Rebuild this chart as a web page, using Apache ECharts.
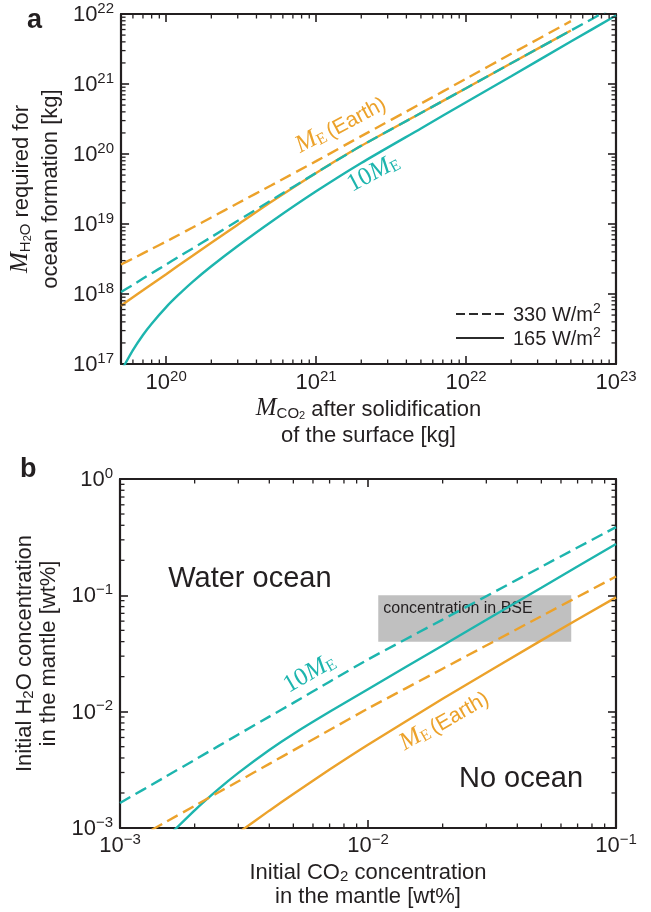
<!DOCTYPE html>
<html>
<head>
<meta charset="utf-8">
<script src="https://cdn.jsdelivr.net/npm/echarts@6/dist/echarts.min.js"></script>
<style>
  html, body { margin: 0; padding: 0; background: #fff; }
  #chart { width: 651px; height: 912px; }
</style>
</head>
<body>
<div id="chart"></div>
<script>
// panel a: CO2 left after surface solidification [kg] -> H2O needed for an ocean [kg]
const co2Mass = [5e19, 6e19, 7e19, 8e19, 1e20, 1.2e20, 1.5e20, 2e20, 3e20, 5e20, 1e21, 2e21, 5e21, 1e22, 2e22, 5e22, 1e23]
const h2oEarth330 = [2.64e18, 3.21e18, 3.81e18, 4.4e18, 5.62e18, 6.9e18, 8.9e18, 1.24e19, 1.98e19, 3.55e19, 7.9e19, 1.8e20, 5.25e20, 1.19e21, 2.7e21, 7.9e21, null]
const h2oEarth165 = [6.8e17, 8.97e17, 1.13e18, 1.38e18, 1.92e18, 2.53e18, 3.51e18, 5.38e18, 9.77e18, 2.06e19, 5.37e19, 1.31e20, 3.85e20, 8.7e20, 1.98e21, 5.8e21, null]
const h2oTen330 = [1.07e18, 1.35e18, 1.66e18, 1.98e18, 2.64e18, 3.36e18, 4.48e18, 6.5e18, 1.11e19, 2.17e19, 5.37e19, 1.31e20, 3.85e20, 8.7e20, 1.98e21, 5.8e21, 1.31e22]
const h2oTen165 = [7.9e16, 1.58e17, 2.6e17, 3.77e17, 6.5e17, 9.6e17, 1.49e18, 2.49e18, 4.85e18, 1.07e19, 2.93e19, 7.45e19, 2.32e20, 5.5e20, 1.29e21, 4.04e21, 9.5e21]

// panel b: initial mantle CO2 [wt%] -> initial mantle H2O [wt%] boundary
const co2Conc = [1e-3, 1.5e-3, 2e-3, 2.5e-3, 3e-3, 4e-3, 5e-3, 7e-3, 1e-2, 2e-2, 5e-2, 1e-1]
const h2oConcTen330 = [1.64e-3, 2.7e-3, 3.85e-3, 5.08e-3, 6.37e-3, 9.06e-3, 0.0119, 0.0181, 0.0281, 0.0619, 0.176, 0.386]
const h2oConcTen165 = [null, 7.8e-4, 1.42e-3, 2.17e-3, 2.98e-3, 4.69e-3, 6.44e-3, 9.98e-3, 0.0156, 0.0371, 0.1164, 0.2767]
const h2oConcEarth330 = [6.8e-4, 1.1e-3, 1.55e-3, 2.03e-3, 2.52e-3, 3.56e-3, 4.65e-3, 6.95e-3, 0.01064, 0.0234, 0.0662, 0.145]
const h2oConcEarth165 = [null, null, null, null, 9.1e-4, 1.41e-3, 1.96e-3, 3.18e-3, 5.2e-3, 0.0129, 0.041, 0.096]

// bulk silicate earth range [co2 lo, h2o lo, co2 hi, h2o hi]
const bseBox = [0.011, 0.04, 0.066, 0.1]

const legendNames = ['330 W/m2', '165 W/m2']

const orange = '#eca22b'
const teal = '#1db5ae'
const ink = '#231f20'
const sans = '"Liberation Sans", Arial, Helvetica, sans-serif'
const serif = '"Liberation Serif", "Times New Roman", serif'

function pairs(xs, ys) {
  const out = []
  xs.forEach((x, i) => { if (ys[i] != null) out.push([x, ys[i]]) })
  return out
}

function powLabel(v) {
  const e = Math.round(Math.log10(v))
  if (Math.abs(v / Math.pow(10, e) - 1) > 1e-6) return ''
  return '{b|10}{sup|' + (e < 0 ? '\u2212' + (-e) : e) + '}'
}

const tickRich = {
  b: { fontFamily: sans, fontSize: 22, color: ink, lineHeight: 24, verticalAlign: 'bottom' },
  sup: { fontFamily: sans, fontSize: 15, color: ink, lineHeight: 16, verticalAlign: 'bottom', padding: [0, 0, 10, 0] }
}

function nameRich(lh) {
  return {
    t: { fontFamily: sans, fontSize: 22, color: ink, lineHeight: lh, verticalAlign: 'bottom' },
    m: { fontFamily: serif, fontStyle: 'italic', fontSize: 25, color: ink, lineHeight: lh, verticalAlign: 'bottom' },
    s: { fontFamily: sans, fontSize: 15, color: ink, lineHeight: lh - 8, verticalAlign: 'bottom' },
    ss: { fontFamily: sans, fontSize: 11, color: ink, lineHeight: lh - 13, verticalAlign: 'bottom' }
  }
}

function frameAxis(gridIndex, position, min, max, extra) {
  return Object.assign({
    gridIndex: gridIndex,
    position: position,
    type: 'log',
    logBase: 10,
    min: min,
    max: max,
    axisLine: { show: true, onZero: false, lineStyle: { color: ink, width: 2.2 } },
    axisTick: { show: true, inside: true, length: 8, lineStyle: { color: ink, width: 1.6 } },
    axisLabel: { show: false },
    splitLine: { show: false },
    minorTick: { show: false }
  }, extra || {})
}

function labelled(margin, name, gap, lh) {
  return {
    axisLabel: { show: true, formatter: powLabel, margin: margin, rich: tickRich, color: ink },
    name: name,
    nameLocation: 'middle',
    nameGap: gap,
    nameTextStyle: { rich: nameRich(lh), color: ink, align: 'center' }
  }
}

function minorValues(lo, hi) {
  const out = []
  for (let e = Math.floor(Math.log10(lo)); e < Math.ceil(Math.log10(hi)); e++) {
    for (let k = 2; k <= 9; k++) {
      const v = k * Math.pow(10, e)
      if (v > lo * 1.0001 && v < hi * 0.9999) out.push(v)
    }
  }
  return out
}

// minor log ticks on all four edges of a grid
function minorTickSeries(axisIdx, dir, values, other) {
  return {
    type: 'custom',
    coordinateSystem: 'cartesian2d',
    xAxisIndex: axisIdx,
    yAxisIndex: axisIdx,
    silent: true,
    clip: false,
    z: 6,
    encode: { x: 0, y: 1 },
    data: values.map(v => dir === 'x' ? [v, other] : [other, v]),
    renderItem: function (params, api) {
      const cs = params.coordSys
      const p = api.coord([api.value(0), api.value(1)])
      const st = { stroke: ink, lineWidth: 1.3 }
      const len = 4.5
      if (dir === 'x') {
        return { type: 'group', children: [
          { type: 'line', shape: { x1: p[0], y1: cs.y + cs.height, x2: p[0], y2: cs.y + cs.height - len }, style: st },
          { type: 'line', shape: { x1: p[0], y1: cs.y, x2: p[0], y2: cs.y + len }, style: st }
        ] }
      }
      return { type: 'group', children: [
        { type: 'line', shape: { x1: cs.x, y1: p[1], x2: cs.x + len, y2: p[1] }, style: st },
        { type: 'line', shape: { x1: cs.x + cs.width, y1: p[1], x2: cs.x + cs.width - len, y2: p[1] }, style: st }
      ] }
    }
  }
}

function curve(name, axisIdx, xs, ys, color, dashed, z) {
  return {
    name: name,
    type: 'line',
    xAxisIndex: axisIdx,
    yAxisIndex: axisIdx,
    data: pairs(xs, ys),
    symbol: 'none',
    smooth: 0.2,
    clip: true,
    silent: true,
    z: z,
    lineStyle: { color: color, width: 2.4, type: dashed ? [12, 6] : 'solid' }
  }
}

const annRich = {
  m: { fontFamily: serif, fontStyle: 'italic', fontSize: 25, lineHeight: 26, verticalAlign: 'bottom' },
  e: { fontFamily: serif, fontSize: 16, lineHeight: 20, verticalAlign: 'bottom' },
  n: { fontFamily: serif, fontSize: 25, lineHeight: 26, verticalAlign: 'bottom' },
  t: { fontFamily: sans, fontSize: 21, lineHeight: 26, verticalAlign: 'bottom' },
  big: { fontFamily: sans, fontSize: 29, lineHeight: 32, verticalAlign: 'bottom', color: ink }
}

const notesA = [
  { text: '{m|M}{e|E} {t|(Earth)}', at: [1.45e21, 2.7e20], rotate: 28, color: orange },
  { text: '{n|10}{m|M}{e|E}', at: [2.4e21, 5.4e19], rotate: 28, color: teal }
]
const notesB = [
  { text: '{n|10}{m|M}{e|E}', at: [5.8e-3, 0.0215], rotate: 30, color: teal },
  { text: '{m|M}{e|E} {t|(Earth)}', at: [0.0202, 8.5e-3], rotate: 30, color: orange },
  { text: '{big|Water ocean}', at: [3.34e-3, 0.1436], rotate: 0, color: ink },
  { text: '{big|No ocean}', at: [0.0414, 2.74e-3], rotate: 0, color: ink }
]

function noteSeries(axisIdx, notes) {
  return {
    type: 'scatter',
    xAxisIndex: axisIdx,
    yAxisIndex: axisIdx,
    symbolSize: 0,
    silent: true,
    z: 10,
    itemStyle: { opacity: 1 },
    data: notes.map(n => ({
      value: n.at,
      label: { show: true, position: 'inside', formatter: n.text, rotate: n.rotate, color: n.color, opacity: 1, rich: annRich }
    }))
  }
}

const chart = echarts.init(document.getElementById('chart'))

chart.setOption({
  animation: false,
  backgroundColor: '#fff',
  textStyle: { fontFamily: sans },
  grid: [
    { left: 120, top: 14, width: 496, height: 350 },
    { left: 120, top: 479, width: 496, height: 349 }
  ],
  xAxis: [
    frameAxis(0, 'bottom', 5e19, 1e23, labelled(6, '{m|M}{s|CO}{ss|2}{t| after solidification}\n{t|of the surface [kg]}', 31, 26)),
    frameAxis(0, 'top', 5e19, 1e23),
    frameAxis(1, 'bottom', 1e-3, 1e-1, labelled(5, '{t|Initial CO}{s|2}{t| concentration}\n{t|in the mantle [wt%]}', 32, 24)),
    frameAxis(1, 'top', 1e-3, 1e-1)
  ],
  yAxis: [
    frameAxis(0, 'left', 1e17, 1e22, labelled(7, '{m|M}{s|H}{ss|2}{s|O}{t| required for}\n{t|ocean formation [kg]}', 56, 29)),
    frameAxis(0, 'right', 1e17, 1e22),
    frameAxis(1, 'left', 1e-3, 1, labelled(7, '{t|Initial H}{s|2}{t|O concentration}\n{t|in the mantle [wt%]}', 60, 24)),
    frameAxis(1, 'right', 1e-3, 1)
  ],
  legend: {
    data: legendNames,
    orient: 'vertical',
    left: 455,
    top: 302,
    padding: 0,
    itemWidth: 48,
    itemHeight: 14,
    itemGap: 1,
    selectedMode: false,
    itemStyle: { opacity: 0 },
    formatter: function (n) { return '{t|' + n.replace('m2', 'm') + '}{sup|2}' },
    textStyle: {
      color: ink,
      padding: [0, 0, 0, 4],
      rich: {
        t: { fontFamily: sans, fontSize: 20, color: ink, lineHeight: 22, verticalAlign: 'bottom' },
        sup: { fontFamily: sans, fontSize: 14, color: ink, lineHeight: 14, verticalAlign: 'bottom', padding: [0, 0, 9, 0] }
      }
    }
  },
  graphic: [
    { type: 'text', left: 27, top: 7, style: { text: 'a', fontFamily: sans, fontWeight: 'bold', fontSize: 27, fill: ink } },
    { type: 'text', left: 20, top: 456, style: { text: 'b', fontFamily: sans, fontWeight: 'bold', fontSize: 27, fill: ink } }
  ],
  series: [
    // legend keys
    { name: legendNames[0], type: 'line', xAxisIndex: 0, yAxisIndex: 0, data: [], symbol: 'none',
      itemStyle: { color: '#2b2b2b' }, lineStyle: { color: '#2b2b2b', width: 1.6, type: [9, 4] } },
    { name: legendNames[1], type: 'line', xAxisIndex: 0, yAxisIndex: 0, data: [], symbol: 'none',
      itemStyle: { color: '#2b2b2b' }, lineStyle: { color: '#2b2b2b', width: 1.6, type: 'solid' } },

    curve('a 10ME 165', 0, co2Mass, h2oTen165, teal, false, 3),
    curve('a ME 165', 0, co2Mass, h2oEarth165, orange, false, 3),
    curve('a 10ME 330', 0, co2Mass, h2oTen330, teal, true, 4),
    curve('a ME 330', 0, co2Mass, h2oEarth330, orange, true, 4),

    {
      type: 'custom',
      xAxisIndex: 2,
      yAxisIndex: 2,
      silent: true,
      z: 1,
      encode: { x: [0, 2], y: [1, 3] },
      data: [bseBox],
      renderItem: function (params, api) {
        const p0 = api.coord([api.value(0), api.value(3)])
        const p1 = api.coord([api.value(2), api.value(1)])
        return {
          type: 'rect',
          shape: { x: p0[0], y: p0[1], width: p1[0] - p0[0], height: p1[1] - p0[1] },
          style: { fill: '#c0c0c0' },
          textContent: { style: { text: 'concentration in BSE', fontFamily: sans, fontSize: 16, fill: ink } },
          textConfig: { position: 'insideTopLeft', distance: 5 }
        }
      }
    },
    curve('b 10ME 165', 2, co2Conc, h2oConcTen165, teal, false, 3),
    curve('b ME 165', 2, co2Conc, h2oConcEarth165, orange, false, 3),
    curve('b 10ME 330', 2, co2Conc, h2oConcTen330, teal, true, 4),
    curve('b ME 330', 2, co2Conc, h2oConcEarth330, orange, true, 4),

    noteSeries(0, notesA),
    noteSeries(2, notesB),

    minorTickSeries(0, 'x', minorValues(5e19, 1e23), 1e19),
    minorTickSeries(0, 'y', minorValues(1e17, 1e22), 1e21),
    minorTickSeries(2, 'x', minorValues(1e-3, 1e-1), 1e-2),
    minorTickSeries(2, 'y', minorValues(1e-3, 1), 1e-2)
  ]
})
</script>
</body>
</html>
